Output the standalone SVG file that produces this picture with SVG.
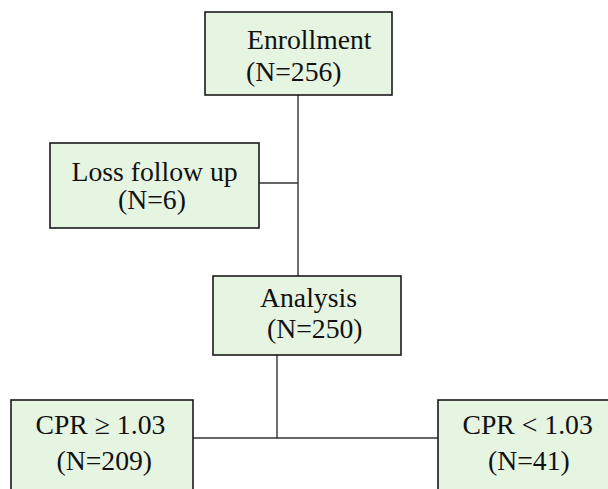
<svg xmlns="http://www.w3.org/2000/svg" width="608" height="489" viewBox="0 0 608 489">
<style>
.box{fill:#e6f4e2;stroke:#1a1a1a;stroke-width:1.6}
.t{font-family:"Liberation Serif","Times New Roman",serif;font-size:27.7px;fill:#111}
.c{fill:none;stroke:#333;stroke-width:1.4}
</style>
<rect width="608" height="489" fill="#fff"/>
<g id="connectors">
<line class="c" x1="298" y1="95" x2="298" y2="276"/>
<line class="c" x1="259" y1="183" x2="298" y2="183"/>
<line class="c" x1="277" y1="355" x2="277" y2="438"/>
<line class="c" x1="193" y1="438" x2="438" y2="438"/>
</g>
<g id="enrollment">
<rect class="box" x="205" y="12" width="187" height="83"/>
<text class="t" x="247" y="49">Enrollment</text>
<text class="t" x="246" y="81">(N=256)</text>
</g>
<g id="loss">
<rect class="box" x="50" y="143" width="209" height="85"/>
<text class="t" x="71.5" y="181">Loss follow up</text>
<text class="t" x="118" y="209">(N=6)</text>
</g>
<g id="analysis">
<rect class="box" x="213" y="276" width="188" height="79"/>
<text class="t" x="260" y="307">Analysis</text>
<text class="t" x="267" y="338">(N=250)</text>
</g>
<g id="cpr-high">
<rect class="box" x="11" y="400" width="182" height="100"/>
<text class="t" x="35.5" y="434">CPR ≥ 1.03</text>
<text class="t" x="56.5" y="470">(N=209)</text>
</g>
<g id="cpr-low">
<rect class="box" x="438" y="400" width="180" height="100"/>
<text class="t" x="462.5" y="434">CPR &lt; 1.03</text>
<text class="t" x="488" y="470">(N=41)</text>
</g>
</svg>
